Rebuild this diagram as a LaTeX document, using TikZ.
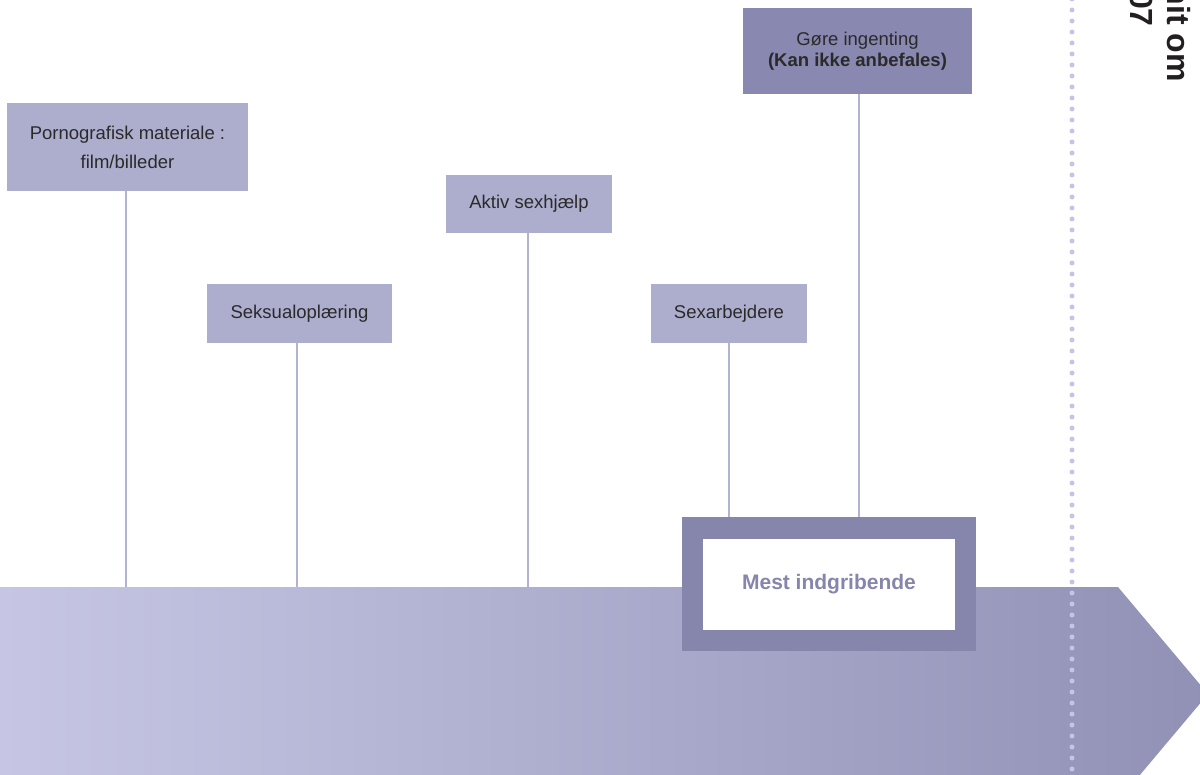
\documentclass[tikz,border=0pt]{standalone}
\usepackage{fontspec}
\setmainfont{Liberation Sans}
\usetikzlibrary{backgrounds}
\definecolor{boxfill}{HTML}{ADADCE}
\definecolor{gorefill}{HTML}{8888B0}
\definecolor{framec}{HTML}{8686AD}
\definecolor{linkc}{HTML}{B2B2D2}
\definecolor{dotc}{HTML}{C4C4E4}
\definecolor{arrowL}{HTML}{C6C6E4}
\definecolor{arrowR}{HTML}{9191B6}
\definecolor{textc}{HTML}{2A2A2A}
\definecolor{sidec}{HTML}{231F20}
\tikzset{
  stepbox/.style={fill=boxfill, draw=none, text=textc, align=center, inner sep=0pt,
    font=\fontsize{18.5}{29}\selectfont},
  link/.style={draw=linkc, line width=2.8pt},
  dotline/.style={draw=dotc, line width=5pt, line cap=round, dash pattern=on 0pt off 11pt},
  sidetext/.style={rotate=-90, inner sep=0pt, text=sidec, font=\fontsize{32}{38}\selectfont\bfseries},
}
\begin{document}
\begin{tikzpicture}[x=1pt,y=-1pt]
\useasboundingbox (0,0) rectangle (1200,775);
\clip (0,0) rectangle (1200,775);

% big arrow
\shade[left color=arrowL, right color=arrowR]
  (0,587) -- (1118,587) -- (1208,694) -- (1118,801) -- (0,801) -- cycle;
\coordinate (axis) at (0,587);

% dotted separator
\coordinate (dtop) at (1072,-1);
\coordinate (dbot) at (1072,790);
\draw[dotline] (dtop) -- (dbot);

% boxes
\node[stepbox, minimum width=241, minimum height=88] (porn) at (127.5,147)
  {Pornografisk materiale :\\film/billeder};
\node[stepbox, minimum width=185, minimum height=59] (seks) at (299.5,313.5)
  {Seksualoplæring};
\node[stepbox, minimum width=166, minimum height=58] (aktiv) at (529,204)
  {Aktiv sexhjælp};
\node[stepbox, minimum width=156, minimum height=59] (sexarb) at (729,313.5)
  {Sexarbejdere};
\node[stepbox, fill=gorefill, minimum width=229, minimum height=86,
      font=\fontsize{18.5}{21}\selectfont] (gore) at (857.5,51)
  {Gøre ingenting\\\textbf{(Kan ikke anbefales)}};

% most intrusive frame
\node[draw=framec, line width=21.5pt, fill=white, text=framec,
      minimum width=273, minimum height=112.5, inner sep=0pt,
      font=\fontsize{21}{25}\selectfont\bfseries] (mest) at (829,584.25)
  {Mest indgribende};

% side text (clipped)
\node[sidetext, anchor=base east] (side1) at (1167,82) {nit om};
\node[sidetext, anchor=base east] (side2) at (1130,27) {07};

% connectors
\begin{scope}[on background layer]
\draw[link] ([xshift=-1.5]porn.south) -- ([xshift=-1.5]porn.south |- axis);
\draw[link] ([xshift=-2.5]seks.south) -- ([xshift=-2.5]seks.south |- axis);
\draw[link] ([xshift=-1]aktiv.south) -- ([xshift=-1]aktiv.south |- axis);
\draw[link] (sexarb.south) -- (sexarb.south |- mest.north);
\draw[link] ([xshift=1.5]gore.south) -- ([xshift=1.5]gore.south |- mest.north);
\end{scope}
\end{tikzpicture}
\end{document}
